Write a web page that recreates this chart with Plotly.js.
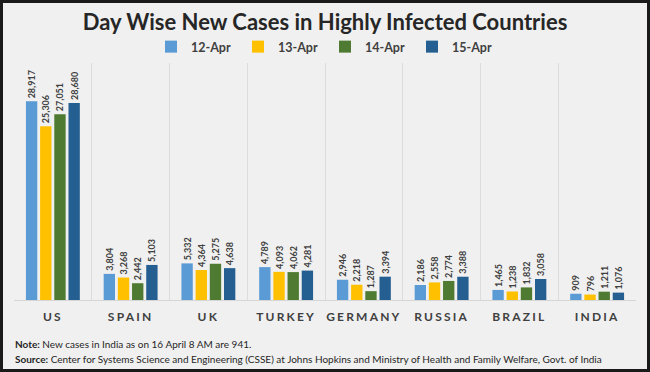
<!DOCTYPE html>
<html>
<head>
<meta charset="utf-8">
<script src="https://cdn.plot.ly/plotly-3.0.1.min.js"></script>
<style>
html,body{margin:0;padding:0;background:#fff;}
#chart{width:644px;height:366px;border:3px solid #1a1a1a;}
</style>
</head>
<body>
<div id="chart"></div>
<script>
const countries = ["US","SPAIN","UK","TURKEY","GERMANY","RUSSIA","BRAZIL","INDIA"];
const seriesNames = ["12-Apr","13-Apr","14-Apr","15-Apr"];
const apr12 = [28917,3804,5332,4789,2946,2186,1465,909];
const apr13 = [25306,3268,4364,4093,2218,2558,1238,796];
const apr14 = [27051,2442,5275,4062,1287,2774,1832,1211];
const apr15 = [28680,5103,4638,4281,3394,3388,3058,1076];
const noteText = '<b>Note:</b> New cases in India as on 16 April 8 AM are 941.';
const sourceText = '<b>Source:</b> Center for Systems Science and Engineering (CSSE) at Johns Hopkins and Ministry of Health and Family Welfare, Govt. of India';
const colors = ["#5B9BD5","#FFC000","#4E7A31","#255E91"];
const allSeries = [apr12,apr13,apr14,apr15];

const traces = allSeries.map((vals,i)=>({
  type:'bar',
  name:seriesNames[i],
  x:countries,
  y:vals,
  marker:{color:colors[i]},
  texttemplate:'%{y:,}',
  textposition:'outside',
  textangle:-90,
  constraintext:'none',
  cliponaxis:false,
  textfont:{family:'Lato, sans-serif',size:9,color:'#404040',weight:'bold'},
  hoverinfo:'skip'
}));

const tickText = countries.map(c=>'<span style="letter-spacing:2.2px">'+c+'</span>');

// plot area in div coords: top 60, bottom 297 -> height 237
const toPaperY = py => (297-py)/237;

const layout = {
  width:644,height:366,
  paper_bgcolor:'#f0f0f0',plot_bgcolor:'#f0f0f0',
  margin:{l:11,r:11,t:60,b:69},
  barmode:'group',bargap:0.27,bargroupgap:0.2,
  title:{text:'<b>Day Wise New Cases in Highly Infected Countries</b>',
    font:{family:'Lato, sans-serif',size:22,color:'#262626'},
    x:0.5,xanchor:'center',yref:'container',y:1-19/366,yanchor:'middle'},
  legend:{orientation:'h',x:0.5,xanchor:'center',yref:'container',y:1-44/366,yanchor:'middle',
    font:{family:'Lato, sans-serif',size:12.5,color:'#404040',weight:'bold'},entrywidth:42,
    itemwidth:30,bgcolor:'rgba(0,0,0,0)'},
  xaxis:{type:'category',tickson:'boundaries',showgrid:true,gridcolor:'#dcdcdc',gridwidth:1,
    ticks:'',showline:true,linecolor:'#d6d6d6',ticklabelstandoff:6,tickangle:0,
    tickvals:countries,ticktext:tickText,
    tickfont:{family:'Lato, sans-serif',size:12,color:'#404040',weight:'bold'}},
  yaxis:{range:[0,34500],showgrid:false,zeroline:false,showticklabels:false,showline:false},
  annotations:[
    {xref:'paper',yref:'paper',x:-0.002,y:toPaperY(341),xanchor:'left',yanchor:'middle',showarrow:false,align:'left',
     text:noteText,font:{family:'Lato, sans-serif',size:10,color:'#262626'}},
    {xref:'paper',yref:'paper',x:-0.002,y:toPaperY(356),xanchor:'left',yanchor:'middle',showarrow:false,align:'left',
     text:sourceText,font:{family:'Lato, sans-serif',size:10,color:'#262626'}}
  ],
  showlegend:true
};
Plotly.newPlot('chart',traces,layout,{displayModeBar:false,staticPlot:true});
</script>
</body>
</html>
